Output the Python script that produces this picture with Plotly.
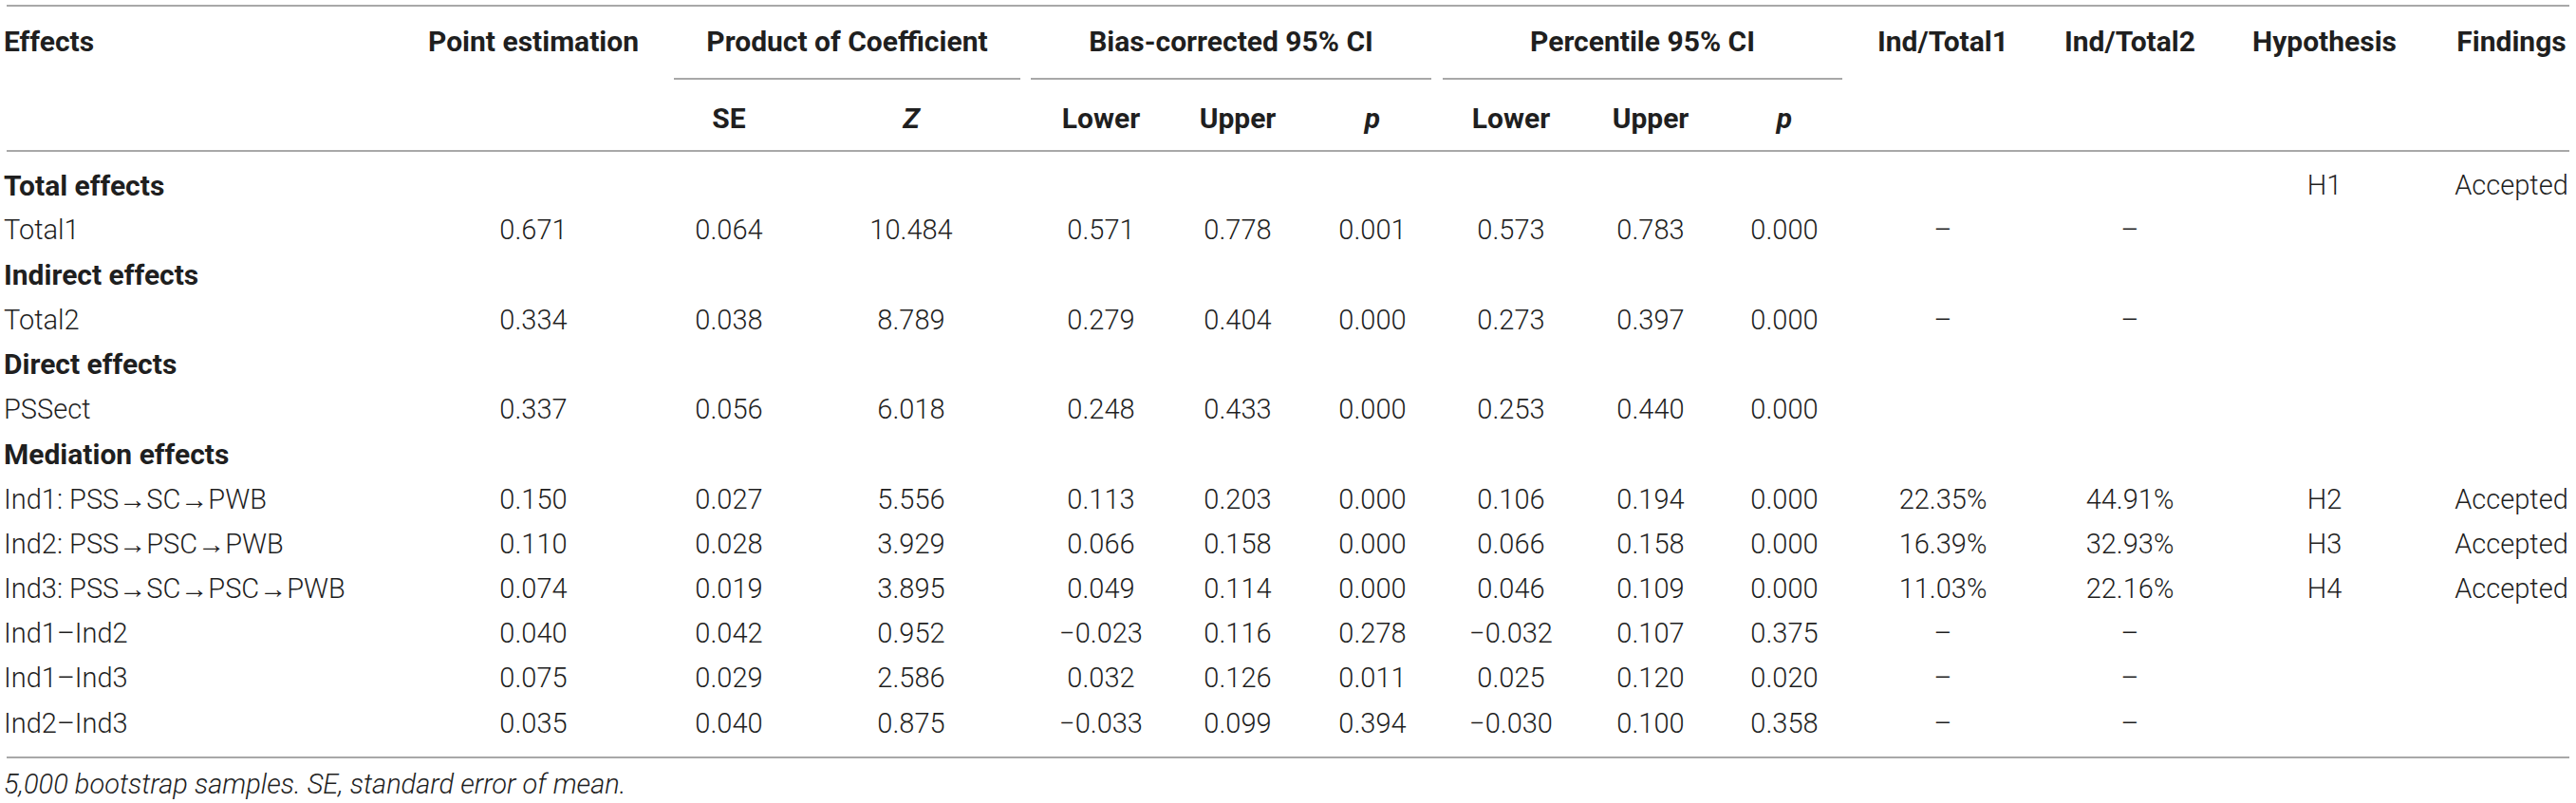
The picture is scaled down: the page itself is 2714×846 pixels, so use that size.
import plotly.graph_objects as go

# ---------------- data ----------------
effects = ["Total effects", "Total1", "Indirect effects", "Total2", "Direct effects", "PSSect",
           "Mediation effects", "Ind1: PSS→SC→PWB", "Ind2: PSS→PSC→PWB", "Ind3: PSS→SC→PSC→PWB",
           "Ind1–Ind2", "Ind1–Ind3", "Ind2–Ind3"]
is_group = [True, False, True, False, True, False, True, False, False, False, False, False, False]
point_est = ["", "0.671", "", "0.334", "", "0.337", "", "0.150", "0.110", "0.074", "0.040", "0.075", "0.035"]
se = ["", "0.064", "", "0.038", "", "0.056", "", "0.027", "0.028", "0.019", "0.042", "0.029", "0.040"]
z_val = ["", "10.484", "", "8.789", "", "6.018", "", "5.556", "3.929", "3.895", "0.952", "2.586", "0.875"]
bc_lower = ["", "0.571", "", "0.279", "", "0.248", "", "0.113", "0.066", "0.049", "−0.023", "0.032", "−0.033"]
bc_upper = ["", "0.778", "", "0.404", "", "0.433", "", "0.203", "0.158", "0.114", "0.116", "0.126", "0.099"]
bc_p = ["", "0.001", "", "0.000", "", "0.000", "", "0.000", "0.000", "0.000", "0.278", "0.011", "0.394"]
pc_lower = ["", "0.573", "", "0.273", "", "0.253", "", "0.106", "0.066", "0.046", "−0.032", "0.025", "−0.030"]
pc_upper = ["", "0.783", "", "0.397", "", "0.440", "", "0.194", "0.158", "0.109", "0.107", "0.120", "0.100"]
pc_p = ["", "0.000", "", "0.000", "", "0.000", "", "0.000", "0.000", "0.000", "0.375", "0.020", "0.358"]
ind_total1 = ["", "–", "", "–", "", "", "", "22.35%", "16.39%", "11.03%", "–", "–", "–"]
ind_total2 = ["", "–", "", "–", "", "", "", "44.91%", "32.93%", "22.16%", "–", "–", "–"]
hypothesis = ["H1", "", "", "", "", "", "", "H2", "H3", "H4", "", "", ""]
findings = ["Accepted", "", "", "", "", "", "", "Accepted", "Accepted", "Accepted", "", "", ""]

top_headers = ["Point estimation", "Ind/Total1", "Ind/Total2", "Hypothesis", "Findings"]
group_headers = ["Product of Coefficient", "Bias-corrected 95% CI", "Percentile 95% CI"]
sub_headers = ["SE", "<i>Z</i>", "Lower", "Upper", "<i>p</i>", "Lower", "Upper", "<i>p</i>"]
footnote = "5,000 bootstrap samples. SE, standard error of mean."

# ---------------- layout config ----------------
W, H = 2714, 846
LEFT, RIGHT = 7, 2707
TEXT_LEFT = 4
col_x = {"point": 562, "se": 768, "z": 960, "bcl": 1160, "bcu": 1304, "bcp": 1446,
         "pcl": 1592, "pcu": 1739, "pcp": 1880, "it1": 2047, "it2": 2244, "hyp": 2449, "fin": 2646}
group_spans = [(710, 1075), (1086, 1508), (1520, 1941)]
y_head1, y_head2 = 46, 127
y_top_line, y_group_line, y_head_line, y_bottom_line = 6, 83, 159, 798
y_row0, row_h = 198, 47.2
y_foot = 829

FS_BODY = 29
FS_HEAD = 30
TXT = "#1f1f1f"
LINE = "#a8a8a8"
BODY_FONT = "Roboto"
HEAD_FONT = "Roboto"

row_y = [y_row0 + i * row_h for i in range(len(effects))]

fig = go.Figure()


def add_text(xs, ys, texts, pos="middle center", bold=False, italic=False):
    fig.add_trace(go.Scatter(
        x=xs, y=ys, text=texts, mode="text", textposition=pos, hoverinfo="skip",
        showlegend=False, cliponaxis=False,
        textfont=dict(family=HEAD_FONT if bold else BODY_FONT,
                      size=FS_HEAD if bold else FS_BODY, color=TXT,
                      weight=700 if bold else 300,
                      style="italic" if italic else "normal"),
    ))


# header row 1
add_text([TEXT_LEFT], [y_head1], ["Effects"], pos="middle right", bold=True)
top_x = [col_x["point"], col_x["it1"], col_x["it2"], col_x["hyp"], col_x["fin"]]
add_text(top_x, [y_head1] * len(top_x), top_headers, bold=True)
add_text([(a + b) / 2 for a, b in group_spans], [y_head1] * 3, group_headers, bold=True)
# header row 2
sub_keys = ["se", "z", "bcl", "bcu", "bcp", "pcl", "pcu", "pcp"]
add_text([col_x[k] for k in sub_keys], [y_head2] * len(sub_keys), sub_headers, bold=True)

# body: effects column
gy = [y for y, g in zip(row_y, is_group) if g]
gt = [t for t, g in zip(effects, is_group) if g]
ny = [y for y, g in zip(row_y, is_group) if not g]
nt = [t for t, g in zip(effects, is_group) if not g]
add_text([TEXT_LEFT] * len(gy), gy, gt, pos="middle right", bold=True)
add_text([TEXT_LEFT] * len(ny), ny, nt, pos="middle right")

columns = [("point", point_est), ("se", se), ("z", z_val), ("bcl", bc_lower), ("bcu", bc_upper),
           ("bcp", bc_p), ("pcl", pc_lower), ("pcu", pc_upper), ("pcp", pc_p),
           ("it1", ind_total1), ("it2", ind_total2), ("hyp", hypothesis), ("fin", findings)]
for key, vals in columns:
    add_text([col_x[key]] * len(vals), row_y, vals)

# footnote
add_text([TEXT_LEFT], [y_foot], [footnote], pos="middle right", italic=True)

shapes = []
for yy in (y_top_line, y_head_line, y_bottom_line):
    shapes.append(dict(type="line", xref="x", yref="y", x0=LEFT, x1=RIGHT, y0=yy, y1=yy,
                       line=dict(color=LINE, width=2)))
for a, b in group_spans:
    shapes.append(dict(type="line", xref="x", yref="y", x0=a, x1=b, y0=y_group_line, y1=y_group_line,
                       line=dict(color=LINE, width=2)))

fig.update_layout(
    width=W, height=H, autosize=False,
    margin=dict(l=0, r=0, t=0, b=0, pad=0),
    paper_bgcolor="white", plot_bgcolor="white",
    xaxis=dict(range=[0, W], visible=False, fixedrange=True),
    yaxis=dict(range=[H, 0], visible=False, fixedrange=True),
    shapes=shapes,
)

fig.write_html(
    "out.html",
    config={"displayModeBar": False, "staticPlot": True},
    post_script="document.body.style.margin='0';document.body.style.overflow='hidden';",
)
